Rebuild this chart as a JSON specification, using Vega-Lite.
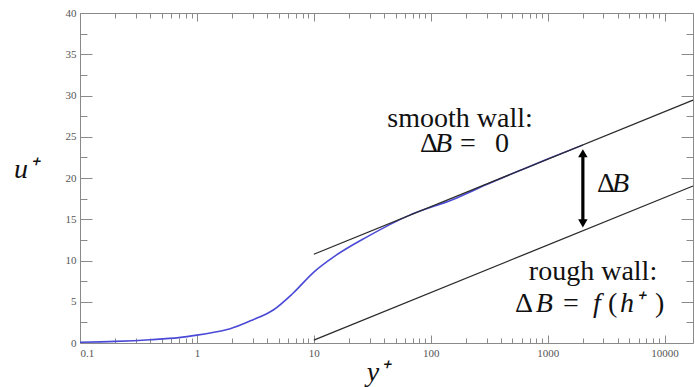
{
  "$schema": "https://vega.github.io/schema/vega-lite/v6.json",
  "width": 613,
  "height": 330,
  "autosize": {"type": "none"},
  "padding": {"left": 80, "top": 13, "right": 2, "bottom": 44},
  "background": "white",
  "config": {
    "view": {"stroke": null},
    "axis": {
      "grid": false,
      "domainColor": "#8a8a8a",
      "tickColor": "#8a8a8a",
      "labelFont": "Liberation Serif",
      "labelFontSize": 11,
      "labelColor": "#555555",
      "titleFont": "Liberation Serif",
      "titleFontStyle": "italic",
      "titleFontWeight": "normal",
      "titleFontSize": 28,
      "titleColor": "#111111"
    },
    "text": {"font": "Liberation Serif", "fontSize": 28, "color": "#111111", "baseline": "alphabetic"}
  },
  "datasets": {
    "curve": [
      {"yp": 0.1, "up": 0.1}, {"yp": 0.2, "up": 0.2}, {"yp": 0.4, "up": 0.4},
      {"yp": 0.7, "up": 0.65}, {"yp": 1, "up": 0.95}, {"yp": 1.4, "up": 1.3},
      {"yp": 1.9, "up": 1.7}, {"yp": 3, "up": 2.8}, {"yp": 4.5, "up": 4.0},
      {"yp": 6.6, "up": 6.0}, {"yp": 10, "up": 8.6}, {"yp": 15, "up": 10.5},
      {"yp": 28, "up": 12.8}, {"yp": 66, "up": 15.5}, {"yp": 155, "up": 17.4},
      {"yp": 300, "up": 19.2}, {"yp": 600, "up": 21.0}, {"yp": 1000, "up": 22.3},
      {"yp": 2000, "up": 24.0}
    ],
    "smooth": [{"yp": 10, "up": 10.76}, {"yp": 17500, "up": 29.43}],
    "rough": [{"yp": 10, "up": 0.36}, {"yp": 17500, "up": 19.03}],
    "arrow": [{"yp": 2000, "u1": 14.6, "u2": 23.0}],
    "heads": [
      {"yp": 2000, "up": 23.0, "shape": "triangle-up"},
      {"yp": 2000, "up": 14.5, "shape": "triangle-down"}
    ],
    "centerText": [
      {"yp": 178, "up": 26.2, "label": "smooth wall:"},
      {"yp": 2443, "up": 7.64, "label": "rough wall:"}
    ],
    "uprightText": [
      {"yp": 80.9, "up": 23.15, "label": "Δ"},
      {"yp": 177.8, "up": 23.15, "label": "="},
      {"yp": 354, "up": 23.15, "label": "0"},
      {"yp": 2641, "up": 18.3, "label": "Δ"},
      {"yp": 525, "up": 3.76, "label": "Δ"},
      {"yp": 1352, "up": 3.76, "label": "="},
      {"yp": 3281, "up": 3.76, "label": "("},
      {"yp": 8279, "up": 3.76, "label": ")"}
    ],
    "italicText": [
      {"yp": 108.7, "up": 23.15, "label": "B"},
      {"yp": 3548, "up": 18.3, "label": "B"},
      {"yp": 790, "up": 3.76, "label": "B"},
      {"yp": 2443, "up": 3.76, "label": "f"},
      {"yp": 4159, "up": 3.76, "label": "h⁺"}
    ]
  },
  "layer": [
    {
      "data": {"name": "curve"},
      "mark": {"type": "line", "color": "#4a4ad6", "strokeWidth": 1.6, "interpolate": "monotone"},
      "encoding": {
        "x": {
          "field": "yp", "type": "quantitative",
          "scale": {"type": "log", "domain": [0.1, 17500], "nice": false},
          "axis": {
            "orient": "bottom",
            "values": [0.1, 1, 10, 100, 1000, 10000],
            "format": "~g",
            "tickSize": -8,
            "labelPadding": 12,
            "title": "y⁺",
            "titleX": 297,
            "titleY": 37,
            "titleBaseline": "alphabetic",
            "titleAlign": "center"
          }
        },
        "y": {
          "field": "up", "type": "quantitative",
          "scale": {"domain": [0, 40], "nice": false, "zero": false},
          "axis": {
            "orient": "left",
            "values": [0, 5, 10, 15, 20, 25, 30, 35, 40],
            "tickSize": -12,
            "labelPadding": 16,
            "title": "u⁺",
            "titleAngle": 0,
            "titleX": -55,
            "titleY": 156,
            "titleAlign": "center",
            "titleBaseline": "middle"
          }
        }
      }
    },
    {
      "data": {"name": "smooth"},
      "mark": {"type": "line", "color": "#2b2b2b", "strokeWidth": 1.3},
      "encoding": {
        "x": {
          "field": "yp", "type": "quantitative",
          "scale": {"type": "log", "domain": [0.1, 17500], "nice": false},
          "axis": {
            "orient": "bottom",
            "values": [0.2,0.3,0.4,0.5,0.6,0.7,0.8,0.9,2,3,4,5,6,7,8,9,20,30,40,50,60,70,80,90,200,300,400,500,600,700,800,900,2000,3000,4000,5000,6000,7000,8000,9000],
            "tickSize": -5,
            "labels": false,
            "title": null,
            "domain": false
          }
        },
        "y": {
          "field": "up", "type": "quantitative",
          "scale": {"domain": [0, 40], "nice": false, "zero": false},
          "axis": {
            "orient": "left",
            "values": [2.5, 7.5, 12.5, 17.5, 22.5, 27.5, 32.5, 37.5],
            "tickSize": -7,
            "labels": false,
            "title": null,
            "domain": false
          }
        }
      }
    },
    {
      "data": {"name": "rough"},
      "mark": {"type": "line", "color": "#2b2b2b", "strokeWidth": 1.3},
      "encoding": {
        "x": {
          "field": "yp", "type": "quantitative",
          "scale": {"type": "log", "domain": [0.1, 17500], "nice": false},
          "axis": {
            "orient": "top",
            "values": [0.1, 1, 10, 100, 1000, 10000],
            "tickSize": -8,
            "labels": false,
            "title": null
          }
        },
        "y": {
          "field": "up", "type": "quantitative",
          "scale": {"domain": [0, 40], "nice": false, "zero": false},
          "axis": {
            "orient": "right",
            "values": [0, 5, 10, 15, 20, 25, 30, 35, 40],
            "tickSize": -12,
            "labels": false,
            "title": null
          }
        }
      }
    },
    {
      "data": {"name": "arrow"},
      "mark": {"type": "rule", "color": "#000000", "strokeWidth": 3.2},
      "encoding": {
        "x": {
          "field": "yp", "type": "quantitative",
          "scale": {"type": "log", "domain": [0.1, 17500], "nice": false},
          "axis": {
            "orient": "top",
            "values": [0.2,0.3,0.4,0.5,0.6,0.7,0.8,0.9,2,3,4,5,6,7,8,9,20,30,40,50,60,70,80,90,200,300,400,500,600,700,800,900,2000,3000,4000,5000,6000,7000,8000,9000],
            "tickSize": -5,
            "labels": false,
            "title": null,
            "domain": false
          }
        },
        "y": {
          "field": "u1", "type": "quantitative",
          "scale": {"domain": [0, 40], "nice": false, "zero": false},
          "axis": {
            "orient": "right",
            "values": [2.5, 7.5, 12.5, 17.5, 22.5, 27.5, 32.5, 37.5],
            "tickSize": -7,
            "labels": false,
            "title": null,
            "domain": false
          }
        },
        "y2": {"field": "u2"}
      }
    },
    {
      "data": {"name": "heads"},
      "mark": {"type": "point", "filled": true, "color": "#000000", "size": 90, "opacity": 1},
      "encoding": {
        "x": {"field": "yp", "type": "quantitative", "scale": {"type": "log", "domain": [0.1, 17500], "nice": false}, "axis": null},
        "y": {"field": "up", "type": "quantitative", "scale": {"domain": [0, 40], "nice": false, "zero": false}, "axis": null},
        "shape": {"field": "shape", "type": "nominal", "scale": null, "legend": null}
      }
    },
    {
      "data": {"name": "centerText"},
      "mark": {"type": "text", "align": "center"},
      "encoding": {
        "x": {"field": "yp", "type": "quantitative", "scale": {"type": "log", "domain": [0.1, 17500], "nice": false}, "axis": null},
        "y": {"field": "up", "type": "quantitative", "scale": {"domain": [0, 40], "nice": false, "zero": false}, "axis": null},
        "text": {"field": "label"}
      }
    },
    {
      "data": {"name": "uprightText"},
      "mark": {"type": "text", "align": "left"},
      "encoding": {
        "x": {"field": "yp", "type": "quantitative", "scale": {"type": "log", "domain": [0.1, 17500], "nice": false}, "axis": null},
        "y": {"field": "up", "type": "quantitative", "scale": {"domain": [0, 40], "nice": false, "zero": false}, "axis": null},
        "text": {"field": "label"}
      }
    },
    {
      "data": {"name": "italicText"},
      "mark": {"type": "text", "align": "left", "fontStyle": "italic"},
      "encoding": {
        "x": {"field": "yp", "type": "quantitative", "scale": {"type": "log", "domain": [0.1, 17500], "nice": false}, "axis": null},
        "y": {"field": "up", "type": "quantitative", "scale": {"domain": [0, 40], "nice": false, "zero": false}, "axis": null},
        "text": {"field": "label"}
      }
    }
  ],
  "resolve": {"axis": {"x": "independent", "y": "independent"}}
}
